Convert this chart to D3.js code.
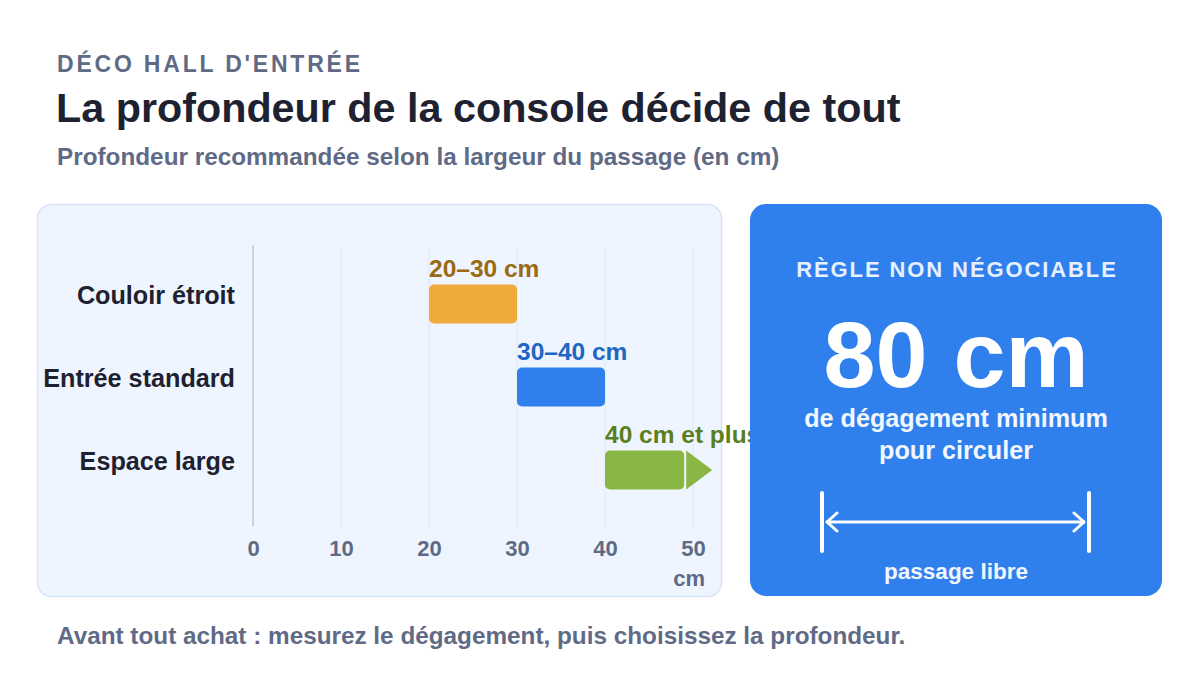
<!DOCTYPE html>
<html>
<head>
<meta charset="utf-8">
<title>Déco hall d'entrée</title>
<script src="https://d3js.org/d3.v7.min.js"></script>
<style>
  html, body { margin: 0; padding: 0; background: #ffffff; }
  svg { display: block; font-family: "Liberation Sans", Arial, sans-serif; }
</style>
</head>
<body>
<svg id="chart" width="1200" height="675"></svg>
<script>
// data
var categories = ["Couloir étroit", "Entrée standard", "Espace large"];
var depthMin = [20, 30, 40];
var depthMax = [30, 40, 49];
var openEnded = [false, false, true];
var rangeLabels = ["20–30 cm", "30–40 cm", "40 cm et plus"];
var xTicks = [0, 10, 20, 30, 40, 50];
var clearanceCm = 80;

var barColors = ["#eeaa3a", "#2f80ed", "#8ab646"];
var labelColors = ["#9a6a14", "#2266c4", "#5b7f1f"];

var svg = d3.select("#chart");
var muted = "#5f6a86";
var dark = "#1e2230";

// header
svg.append("text").attr("x", 57).attr("y", 72)
  .attr("font-size", 23).attr("font-weight", 700).attr("letter-spacing", 2.8)
  .attr("fill", muted).text("DÉCO HALL D'ENTRÉE");
svg.append("text").attr("x", 56).attr("y", 122)
  .attr("font-size", 41.3).attr("font-weight", 700)
  .attr("fill", dark).text("La profondeur de la console décide de tout");
svg.append("text").attr("x", 57).attr("y", 165)
  .attr("font-size", 24.3).attr("font-weight", 700)
  .attr("fill", muted).text("Profondeur recommandée selon la largeur du passage (en cm)");

// left panel
svg.append("rect").attr("x", 37.5).attr("y", 204.5).attr("width", 684).attr("height", 392)
  .attr("rx", 14).attr("fill", "#eff5fe").attr("stroke", "#d6e4f8").attr("stroke-width", 1.5);

var x = d3.scaleLinear().domain([0, 50]).range([253, 693]);
// row centres (category labels sit here, bars hang slightly below)
var y = d3.scalePoint().domain(categories).range([295, 461]);
var barH = 39, barOff = -10.5;

var plot = svg.append("g");

// grid
plot.selectAll("line.grid").data(xTicks).join("line")
  .attr("class", "grid")
  .attr("x1", function(d) { return x(d); }).attr("x2", function(d) { return x(d); })
  .attr("y1", 245).attr("y2", 526)
  .attr("stroke", function(d) { return d === 0 ? "#c5d3e6" : "#dde7f4"; })
  .attr("stroke-width", function(d) { return d === 0 ? 2 : 1; });

// x axis labels
var xAxis = d3.axisBottom(x).tickValues(xTicks).tickSize(0).tickPadding(0);
var ax = plot.append("g").attr("transform", "translate(0,540)").call(xAxis);
ax.select(".domain").remove();
ax.selectAll("text").attr("font-size", 22).attr("font-weight", 700)
  .attr("fill", muted).attr("font-family", "Liberation Sans, Arial, sans-serif");
plot.append("text").attr("x", 705).attr("y", 586).attr("text-anchor", "end")
  .attr("font-size", 22).attr("font-weight", 700).attr("fill", muted).text("cm");

// category labels
plot.selectAll("text.cat").data(categories).join("text")
  .attr("class", "cat")
  .attr("x", 235).attr("y", function(d) { return y(d) + 9; })
  .attr("text-anchor", "end").attr("font-size", 25.2).attr("font-weight", 700)
  .attr("fill", dark).text(function(d) { return d; });

// bars
var rows = categories.map(function(c, i) {
  return { cat: c, lo: depthMin[i], hi: depthMax[i], open: openEnded[i], label: rangeLabels[i], i: i };
});

plot.selectAll("rect.bar").data(rows).join("rect")
  .attr("class", "bar")
  .attr("x", function(d) { return x(d.lo); })
  .attr("y", function(d) { return y(d.cat) + barOff; })
  .attr("width", function(d) { return x(d.hi) - x(d.lo); })
  .attr("height", barH)
  .attr("rx", 5)
  .attr("fill", function(d) { return barColors[d.i]; });

// arrow for open-ended range
plot.selectAll("path.open").data(rows.filter(function(d) { return d.open; })).join("path")
  .attr("class", "open")
  .attr("d", function(d) {
    var x0 = x(d.hi) + 2, y0 = y(d.cat) + barOff, h = barH;
    return "M" + x0 + "," + y0 + "L" + (x0 + 26) + "," + (y0 + h / 2) + "L" + x0 + "," + (y0 + h) + "Z";
  })
  .attr("fill", function(d) { return barColors[d.i]; });

plot.selectAll("text.range").data(rows).join("text")
  .attr("class", "range")
  .attr("x", function(d) { return x(d.lo); })
  .attr("y", function(d) { return y(d.cat) + barOff - 8; })
  .attr("font-size", 24.5).attr("font-weight", 700)
  .attr("fill", function(d) { return labelColors[d.i]; })
  .text(function(d) { return d.label; });

// right panel
var rp = svg.append("g");
rp.append("rect").attr("x", 750).attr("y", 204).attr("width", 412).attr("height", 392)
  .attr("rx", 16).attr("fill", "#2f80ed");
var cx = 956;
rp.append("text").attr("x", cx + 1).attr("y", 277).attr("text-anchor", "middle")
  .attr("font-size", 22).attr("font-weight", 700).attr("letter-spacing", 1.9)
  .attr("fill", "#e6f0ff").text("RÈGLE NON NÉGOCIABLE");
rp.append("text").attr("x", cx).attr("y", 387).attr("text-anchor", "middle")
  .attr("font-size", 93.5).attr("font-weight", 700)
  .attr("fill", "#ffffff").text(clearanceCm + " cm");
rp.append("text").attr("x", cx).attr("y", 427).attr("text-anchor", "middle")
  .attr("font-size", 25.2).attr("font-weight", 700)
  .attr("fill", "#f2f7ff").text("de dégagement minimum");
rp.append("text").attr("x", cx).attr("y", 459).attr("text-anchor", "middle")
  .attr("font-size", 25.2).attr("font-weight", 700)
  .attr("fill", "#f2f7ff").text("pour circuler");

// dimension marker
var dl = 822, dr = 1089, dy = 522;
rp.selectAll("line.tick").data([dl, dr]).join("line")
  .attr("x1", function(d) { return d; }).attr("x2", function(d) { return d; })
  .attr("y1", 493).attr("y2", 551)
  .attr("stroke", "#ffffff").attr("stroke-width", 4).attr("stroke-linecap", "round");
rp.append("line").attr("x1", dl + 4).attr("x2", dr - 4).attr("y1", dy).attr("y2", dy)
  .attr("stroke", "#ffffff").attr("stroke-width", 3);
rp.append("path")
  .attr("d", "M" + (dl + 15) + "," + (dy - 9) + "L" + (dl + 5) + "," + dy + "L" + (dl + 15) + "," + (dy + 9) +
             "M" + (dr - 15) + "," + (dy - 9) + "L" + (dr - 5) + "," + dy + "L" + (dr - 15) + "," + (dy + 9))
  .attr("fill", "none").attr("stroke", "#ffffff").attr("stroke-width", 3)
  .attr("stroke-linecap", "round").attr("stroke-linejoin", "round");
rp.append("text").attr("x", cx).attr("y", 579).attr("text-anchor", "middle")
  .attr("font-size", 22.5).attr("font-weight", 700)
  .attr("fill", "#f2f7ff").text("passage libre");

// footer
svg.append("text").attr("x", 57).attr("y", 644)
  .attr("font-size", 24.3).attr("font-weight", 700)
  .attr("fill", muted).text("Avant tout achat : mesurez le dégagement, puis choisissez la profondeur.");
</script>
</body>
</html>
